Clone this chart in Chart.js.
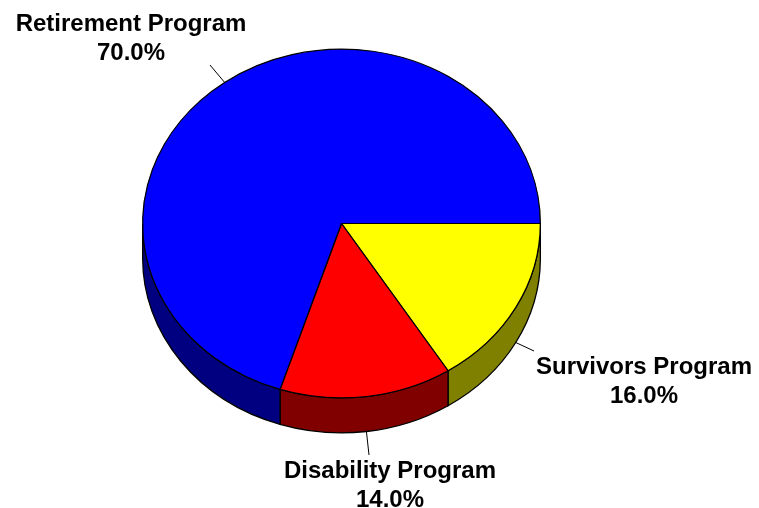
<!DOCTYPE html>
<html>
<head>
<meta charset="utf-8">
<style>
  html, body { margin: 0; padding: 0; background: #fff; }
  canvas { display: block; }
</style>
<script src="https://cdn.jsdelivr.net/npm/chart.js@4"></script>
</head>
<body>
<canvas id="pie" width="759" height="508"></canvas>
<script>
const categories = ['Survivors Program', 'Disability Program', 'Retirement Program'];
const shares = [16.0, 14.0, 70.0];
const topColors = ['#ffff00', '#ff0000', '#0000ff'];
const sideColors = ['#808000', '#800000', '#000080'];

// 3D look: flatten the round pie into an ellipse and give it a rim
const SQUASH = 0.877;
const DEPTH = 35;
const FONT = 'bold 24px "Liberation Sans", Arial, sans-serif';

// label centre + first baseline, and where the leader line stops
const labelSpots = [
    { x: 644, y: 374, lineTo: [534, 351], onRim: true },
    { x: 390, y: 478, lineTo: [369, 455], onRim: true },
    { x: 131, y: 31, lineTo: [210, 65], onRim: false }
];

const rimPlugin = {
    id: 'rim',
    beforeDatasetsDraw(chart) {
        const ctx = chart.ctx;
        chart.getDatasetMeta(0).data.forEach((arc, i) => {
            // only the front half of the rim can be seen
            const from = Math.max(arc.startAngle, 0);
            const to = Math.min(arc.endAngle, Math.PI);
            if (to <= from) return;
            const rx = arc.outerRadius;
            const ry = rx * SQUASH;
            ctx.save();
            ctx.beginPath();
            ctx.ellipse(arc.x, arc.y, rx, ry, 0, from, to);
            ctx.ellipse(arc.x, arc.y + DEPTH, rx, ry, 0, to, from, true);
            ctx.closePath();
            ctx.fillStyle = sideColors[i];
            ctx.fill();
            ctx.lineWidth = 1.3;
            ctx.strokeStyle = '#000';
            ctx.stroke();
            ctx.restore();
        });
    },
    beforeDatasetDraw(chart) {
        const arc = chart.getDatasetMeta(0).data[0];
        const ctx = chart.ctx;
        ctx.save();
        ctx.translate(arc.x, arc.y);
        ctx.scale(1, SQUASH);
        ctx.translate(-arc.x, -arc.y);
    },
    afterDatasetDraw(chart) {
        chart.ctx.restore();
    },
    afterDraw(chart) {
        const ctx = chart.ctx;
        chart.getDatasetMeta(0).data.forEach((arc, i) => {
            const spot = labelSpots[i];
            const mid = (arc.startAngle + arc.endAngle) / 2;
            const sx = arc.x + arc.outerRadius * Math.cos(mid);
            const sy = arc.y + arc.outerRadius * SQUASH * Math.sin(mid) + (spot.onRim ? DEPTH : 0);

            ctx.save();
            ctx.beginPath();
            ctx.moveTo(sx, sy);
            ctx.lineTo(spot.lineTo[0], spot.lineTo[1]);
            ctx.lineWidth = 1;
            ctx.strokeStyle = '#000';
            ctx.stroke();

            ctx.fillStyle = '#000';
            ctx.font = FONT;
            ctx.textAlign = 'center';
            ctx.textBaseline = 'alphabetic';
            ctx.fillText(categories[i], spot.x, spot.y);
            ctx.fillText(shares[i].toFixed(1) + '%', spot.x, spot.y + 29);
            ctx.restore();
        });
    }
};

new Chart(document.getElementById('pie'), {
    type: 'pie',
    data: {
        labels: categories,
        datasets: [{
            data: shares,
            backgroundColor: topColors,
            borderColor: '#000',
            borderWidth: 1.3
        }]
    },
    options: {
        responsive: false,
        animation: false,
        rotation: 90,
        layout: { padding: { left: 142, right: 218, top: 24, bottom: 85 } },
        plugins: {
            legend: { display: false },
            tooltip: { enabled: false }
        }
    },
    plugins: [rimPlugin]
});
</script>
</body>
</html>
